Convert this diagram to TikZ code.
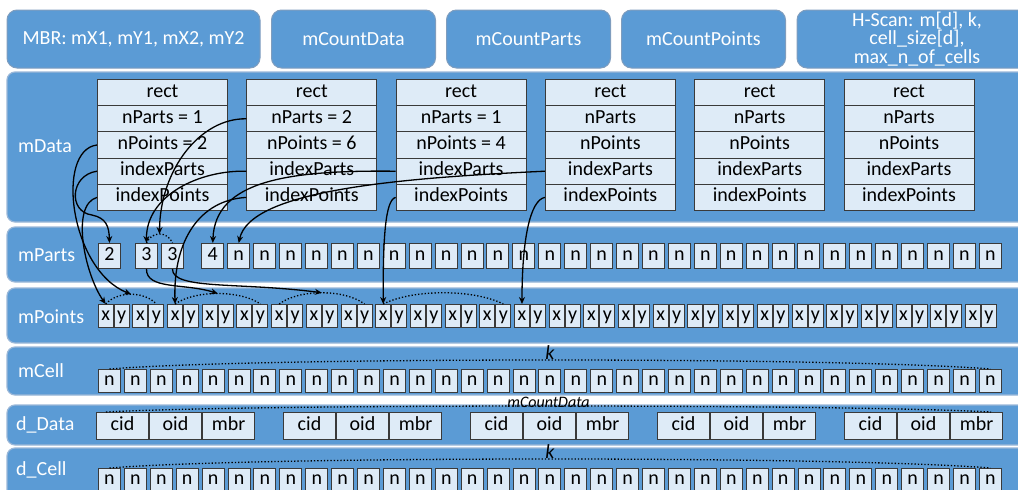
\documentclass[tikz,border=0pt]{standalone}
\usepackage{fontspec}
\setmainfont{Carlito}
\usetikzlibrary{arrows.meta, positioning}

\definecolor{bandblue}{HTML}{5B9BD5}
\definecolor{bandedge}{HTML}{9AB7D8}
\definecolor{boxedge}{HTML}{7F9DBE}
\definecolor{cellfill}{HTML}{DEEBF7}
\definecolor{celledge}{HTML}{3A3A3A}

\tikzset{
  band/.style={draw=bandedge, line width=1.2pt, fill=bandblue, rounded corners=8pt},
  topbox/.style={rectangle, draw=boxedge, line width=1pt, fill=bandblue, rounded corners=10pt,
    text=white, minimum height=58pt, inner sep=0pt, align=center},
  lbl/.style={text=white, anchor=west, inner sep=0pt},
  field/.style={rectangle, draw=celledge, fill=cellfill, line width=1pt, minimum width=130pt,
    minimum height=26.2pt, inner sep=0pt, text height=13pt, text depth=4pt, anchor=north west},
  cell/.style={rectangle, draw=celledge, fill=cellfill, line width=1pt, minimum width=22pt,
    minimum height=25pt, inner sep=0pt, text height=13pt, text depth=4pt, anchor=north west},
  ptcell/.style={cell, minimum width=15pt, minimum height=23pt},
  ncell/.style={cell, minimum height=23pt},
  dcell/.style={cell, minimum width=52pt, minimum height=27pt},
  link/.style={-{Stealth[length=7pt, width=6pt]}, line width=1.3pt},
  dots/.style={dotted, line width=1.3pt},
  note/.style={font=\fontsize{20}{22}\selectfont\itshape, inner sep=1pt},
}

\begin{document}
\begin{tikzpicture}[x=1pt, y=-1pt, every node/.style={font=\fontsize{20}{22}\selectfont}]
  \clip (0,0) rectangle (1018,490);
  \useasboundingbox (0,0) rectangle (1018,490);

  % header boxes
  \node[topbox, minimum width=253pt] (boxMBR) at (133.5,39) {MBR: mX1, mY1, mX2, mY2};
  \node[topbox, minimum width=164pt, right=10.5pt of boxMBR] (cntData) {mCountData};
  \node[topbox, minimum width=164pt, right=10pt of cntData] (cntParts) {mCountParts};
  \node[topbox, minimum width=164pt, right=10pt of cntParts] (cntPoints) {mCountPoints};
  \node[topbox, minimum width=240pt, right=10.5pt of cntPoints, font=\fontsize{20}{18.5}\selectfont]
    (hscan) {H-Scan: m[d], k,\\cell\_size[d],\\max\_n\_of\_cells};

  % bands
  \draw[band] (7,72) rectangle (1040,222);
  \draw[band] (7,227) rectangle (1040,282);
  \draw[band] (7,288) rectangle (1040,343);
  \draw[band] (7,347) rectangle (1040,395);
  \draw[band] (7,405) rectangle (1040,445);
  \draw[band] (7,448) rectangle (1040,520);
  \node[lbl] (lData) at (18,146) {mData};
  \node[lbl] (lParts) at (18,255) {mParts};
  \node[lbl] (lPoints) at (18,317) {mPoints};
  \node[lbl] (lCell) at (18,371) {mCell};
  \node[lbl] (lDData) at (16,425) {d\_Data};
  \node[lbl] (lDCell) at (16,470) {d\_Cell};

  % mData records
  \foreach \np/\nq [count=\i] in {nParts = 1/nPoints = 2, nParts = 2/nPoints = 6,
      nParts = 1/nPoints = 4, nParts/nPoints, nParts/nPoints, nParts/nPoints}
    \foreach \txt [count=\j] in {rect, \np, \nq, indexParts, indexPoints}
      \node[field] (r\i-\j) at ({97+149.3*(\i-1)},{79+26.2*(\j-1)}) {\txt};

  % mParts
  \node[cell] (p1) at (98,243) {2};
  \node[cell] (p2) at (135,243) {3};
  \node[cell] (p3) at (161,243) {3};
  \node[cell] (p4) at (201.3,243) {4};
  \foreach \j in {5,...,34}
    \node[cell] (p\j) at ({201.3+25.92*(\j-4)},243) {n};

  % mPoints
  \foreach \j in {1,...,26} {
    \node[ptcell] (x\j) at ({97.7+34.69*(\j-1)},304) {x};
    \node[ptcell, right=0pt of x\j] (y\j) {y};
  }

  % mCell and d_Cell
  \foreach \j in {1,...,35} {
    \node[ncell] (c\j) at ({98+25.91*(\j-1)},369) {n};
    \node[ncell] (dc\j) at ({98+25.91*(\j-1)},468) {n};
  }

  % d_Data
  \foreach \g in {1,...,5} {
    \node[dcell] (cid\g) at ({96+187*(\g-1)},412) {cid};
    \node[dcell, right=0pt of cid\g] (oid\g) {oid};
    \node[dcell, right=0pt of oid\g] (mbr\g) {mbr};
  }

  % counts
  \draw[dots] (p2.north) .. controls +(5,-12) and +(-5,-12) .. (p3.north) coordinate[pos=.5] (pk0);
  \draw[dots] (x1.north) .. controls +(12,-13) and +(-12,-13) .. (y2.north) coordinate[pos=.5] (pk1);
  \draw[dots] (x3.north) .. controls +(20,-14) and +(-20,-14) .. (y5.north) coordinate[pos=.5] (pk2);
  \draw[dots] (x6.north) .. controls +(20,-15) and +(-20,-15) .. (y8.north) coordinate[pos=.5] (pk3);
  \draw[dots] (x9.north) .. controls +(30,-15) and +(-30,-15) .. (y12.north) coordinate[pos=.5] (pk4);
  \draw[dots] (c1.north) .. controls +(150,-12) and +(-150,-12) .. (c35.north)
    node[note, pos=.5, above=-1pt] (kCell) {k};
  \draw[dots] ([xshift=10pt]cid1.north west) .. controls +(150,-8) and +(-150,-8) .. ([xshift=-12pt]mbr5.north east)
    node[note, pos=.5, above=-3pt, font=\fontsize{16}{18}\selectfont\itshape] (kData) {mCountData};
  \draw[dots] (dc1.north) .. controls +(150,-12) and +(-150,-12) .. (dc35.north)
    node[note, pos=.5, above=-1pt] (kDCell) {k};

  % links
  \draw[link] (r1-3.west) .. controls (55,150) and (70,270) .. (pk1);
  \draw[link] (r1-4.west) .. controls (70,175) and (68,212) .. (92,215) .. controls (106,218) and (109,226) .. (p1.north);
  \draw[link] (r1-5.west) .. controls (70,205) and (85,275) .. (x1.north);
  \draw[link] (r2-2.west) .. controls (200,118) and (160,170) .. (pk0);
  \draw[link] (r2-4.west) .. controls (200,170) and (146,195) .. (p2.north);
  \draw[link] (r2-5.west) .. controls (200,200) and (173,240) .. (x3.north);
  \draw[link] (p2.south) .. controls (146,290) and (185,283) .. (pk2);
  \draw[link] (p3.south) .. controls (172,290) and (240,282) .. (pk3);
  \draw[link] (r3-4.west) .. controls (290,170) and (215,180) .. (p4.north);
  \draw[link] (r4-4.west) .. controls (400,178) and (250,190) .. (p5.north);
  \draw[link] (r3-5.west) .. controls (385,200) and (383,240) .. (x9.north);
  \draw[link] (r4-5.west) .. controls (530,200) and (522,240) .. (x13.north);
\end{tikzpicture}
\end{document}
